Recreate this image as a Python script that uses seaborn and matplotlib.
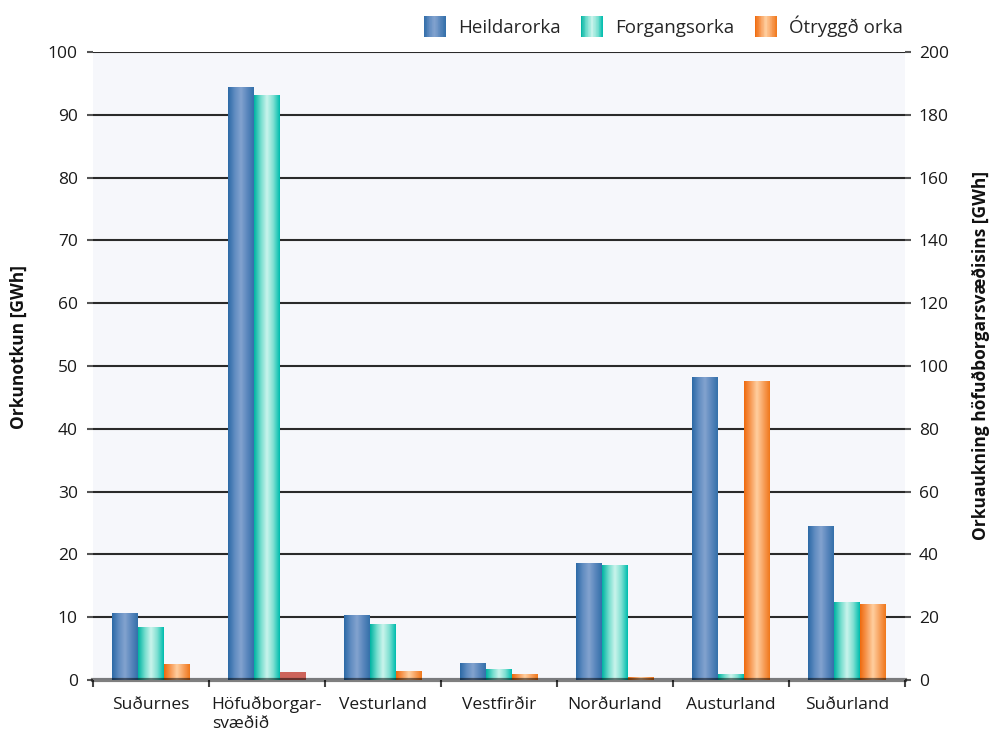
import numpy as np
import pandas as pd
import seaborn as sns
import matplotlib.pyplot as plt
from matplotlib.colors import LinearSegmentedColormap
from matplotlib.patches import Rectangle
from matplotlib.legend_handler import HandlerBase
from matplotlib.ticker import MultipleLocator, FixedLocator

# ---- data -------------------------------------------------------------
regions = ["Suðurnes", "Höfuðborgar-\nsvæðið", "Vesturland", "Vestfirðir",
           "Norðurland", "Austurland", "Suðurland"]
series = ["Heildarorka", "Forgangsorka", "Ótryggð orka"]

# GWh; the capital region (index 1) is read on the right-hand axis
heildarorka = [10.7, 188.8, 10.35, 2.7, 18.6, 48.2, 24.5]
forgangsorka = [8.4, 186.3, 8.9, 1.75, 18.3, 1.0, 12.4]
otryggd_orka = [2.5, 2.6, 1.4, 1.0, 0.45, 47.6, 12.1]
capital_region = "Höfuðborgar-\nsvæðið"

left_ticks = list(range(0, 101, 10))
right_ticks = list(range(0, 201, 20))

# ---- styling -----------------------------------------------------------
sns.set_theme(style="white")
plt.rcParams["font.family"] = ["Open Sans", "DejaVu Sans"]

grad_stops = {
    "Heildarorka": ["#2c6aa6", "#5f8bc0", "#83a3cf", "#5a87bd", "#3470aa"],
    "Forgangsorka": ["#00b3a2", "#6fdccc", "#cbf4ec", "#7fe0d2", "#00bdae"],
    "Ótryggð orka": ["#ef6a0e", "#f79a55", "#ffcfa0", "#f8a25f", "#f0781c"],
}
cmaps = {k: LinearSegmentedColormap.from_list(k, v) for k, v in grad_stops.items()}
base_colors = {"Heildarorka": "#4a7fba", "Forgangsorka": "#3ccab9",
               "Ótryggð orka": "#f5883a"}
capital_colors = dict(base_colors, **{"Ótryggð orka": "#cd635a"})

grid_col = "#2a2a2a"
panel_col = "#f6f7fb"
text_col = "#1a1a1a"

df = pd.DataFrame({
    "Svæði": np.repeat(regions, len(series)),
    "Röð": series * len(regions),
    "GWh": np.ravel(np.column_stack([heildarorka, forgangsorka, otryggd_orka])),
})
df_left = df[df["Svæði"] != capital_region]
df_right = df[df["Svæði"] == capital_region]

fig = plt.figure(figsize=(9.89, 7.30), dpi=100)
ax = fig.add_axes([0.094, 0.0685, 0.821, 0.8603])
ax2 = ax.twinx()

sns.barplot(data=df_left, x="Svæði", y="GWh", hue="Röð", order=regions,
            hue_order=series, palette=base_colors, width=0.67, ax=ax,
            legend=False, saturation=1, edgecolor="none")
sns.barplot(data=df_right, x="Svæði", y="GWh", hue="Röð", order=regions,
            hue_order=series, palette=capital_colors, width=0.67, ax=ax2,
            legend=False, saturation=1, edgecolor="none")

grad = np.linspace(0, 1, 64).reshape(1, -1)


def shade_bars(axis, keep_flat=()):
    """Replace the flat bar fill with a horizontal cylinder-style gradient."""
    for name, cont in zip(series, axis.containers):
        if name in keep_flat:
            continue
        for bar in cont.patches:
            h = bar.get_height()
            if not np.isfinite(h) or h <= 0:
                continue
            x0 = bar.get_x()
            w = bar.get_width()
            img = axis.imshow(grad, extent=(x0, x0 + w, 0, h), aspect="auto",
                              cmap=cmaps[name], zorder=bar.get_zorder(),
                              interpolation="bilinear")
            img.set_clip_path(bar)
            bar.set_alpha(0)


shade_bars(ax)
shade_bars(ax2, keep_flat=("Ótryggð orka",))

ax.set_xlim(-0.5, len(regions) - 0.5)
ax.set_ylim(0, 100)
ax2.set_ylim(0, 200)
ax.set_aspect("auto")
ax2.set_aspect("auto")

ax.set_facecolor(panel_col)
ax.grid(False)
ax2.grid(False)
ax.yaxis.set_major_locator(FixedLocator(left_ticks))
ax2.yaxis.set_major_locator(FixedLocator(right_ticks))
for t in left_ticks[1:]:
    ax.axhline(t, color=grid_col, lw=1.5, zorder=0.5)

for sp in ax.spines.values():
    sp.set_visible(False)
for name, sp in ax2.spines.items():
    sp.set_visible(name == "bottom")
ax2.spines["bottom"].set_color((0, 0, 0, 0.5))
ax2.spines["bottom"].set_linewidth(3)
ax2.spines["bottom"].set_zorder(5)

ax.tick_params(axis="y", which="major", direction="out", length=4, width=1.5,
               color="#555555", pad=7, labelsize=12.5, labelcolor=text_col,
               left=True)
ax2.tick_params(axis="y", which="major", direction="out", length=4, width=1.5,
                color="#555555", pad=6, labelsize=12.5, labelcolor=text_col,
                right=True)
ax.set_xticks(range(len(regions)))
ax.set_xticklabels(regions, fontsize=12.5, color=text_col, linespacing=1.2,
                   va="top")
for lab in ax.get_xticklabels():
    lab.set_multialignment("left")
ax.xaxis.set_minor_locator(MultipleLocator(1, offset=0.5))
ax.tick_params(axis="x", which="major", length=0, pad=12)
ax.tick_params(axis="x", which="minor", direction="out", length=5, width=1.5,
               color="#444444", bottom=True)

ax.set_xlabel("")
ax2.set_xlabel("")
ax.set_ylabel("Orkunotkun [GWh]", fontsize=12.5, fontweight="bold",
              color="#111111")
ax2.set_ylabel("Orkuaukning höfuðborgarsvæðisins [GWh]", fontsize=12.5,
               fontweight="bold", color="#111111")
ax.yaxis.set_label_coords(-0.08, 0.53)
ax2.yaxis.set_label_coords(1.0825, 0.517)


class GradientHandler(HandlerBase):
    def __init__(self, cmap):
        super().__init__()
        self.cmap = cmap

    def create_artists(self, legend, orig_handle, xdescent, ydescent, width,
                       height, fontsize, trans):
        n = 30
        step = width / n
        arts = []
        for i in range(n):
            r = Rectangle((-xdescent + i * step, -ydescent), step * 1.05, height,
                          facecolor=self.cmap((i + 0.5) / n), lw=0,
                          transform=trans, antialiased=False)
            arts.append(r)
        return arts


handles = [Rectangle((0, 0), 1, 1, label=s) for s in series]
fig.legend(handles=handles, labels=series, loc="upper right",
           bbox_to_anchor=(0.93, 1.002), ncol=3, frameon=False, fontsize=13.5,
           handlelength=1.17, handleheight=1.3, handletextpad=0.65,
           columnspacing=1.1,
           handler_map={h: GradientHandler(cmaps[s]) for h, s in zip(handles, series)})

fig.savefig("out.png", dpi=100)
